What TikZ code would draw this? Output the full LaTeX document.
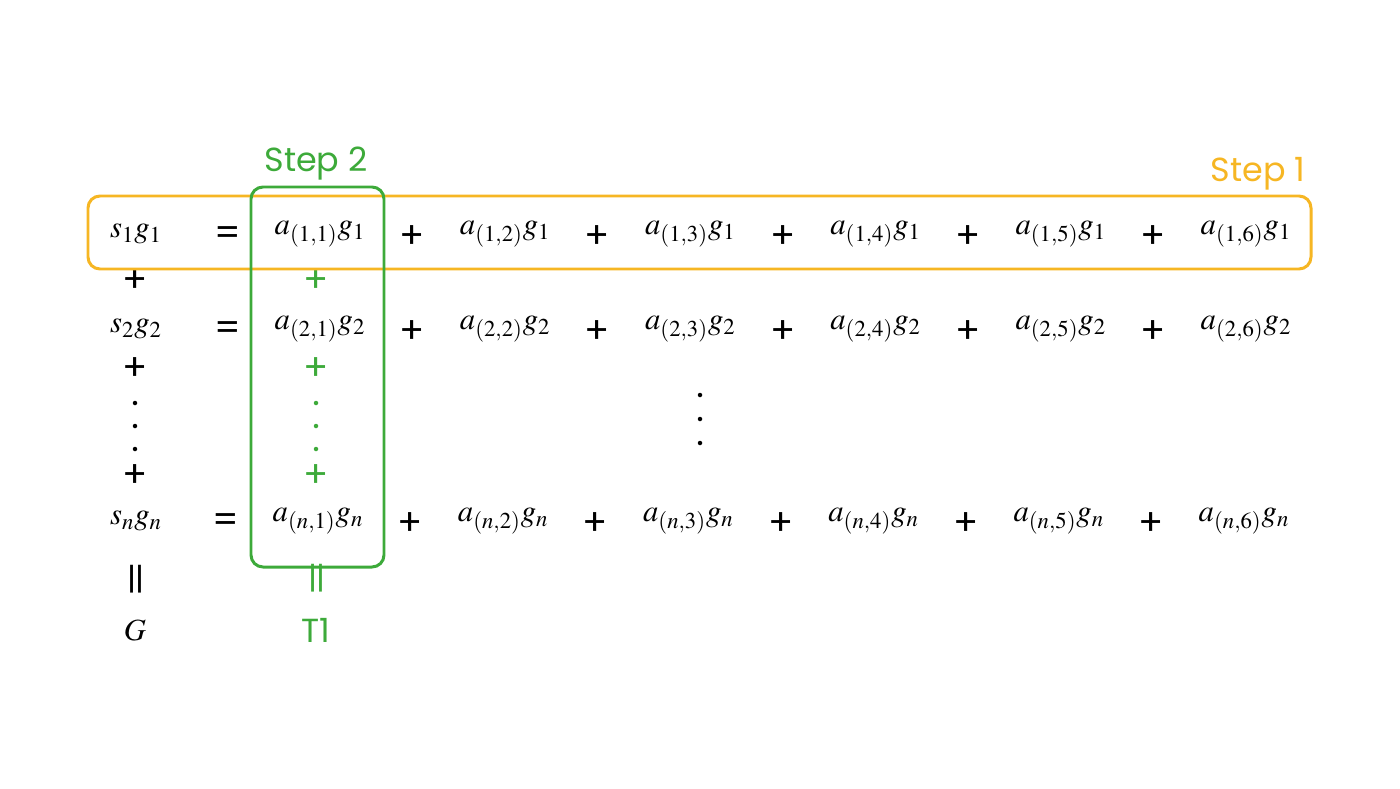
\documentclass[tikz,border=0pt]{standalone}
\usepackage{mathptmx}
\usepackage{fontspec}
\newfontfamily\stepfont{Poppins}
\usepackage{xcolor}
\usetikzlibrary{positioning}
\definecolor{stepOrange}{HTML}{F6B623}
\definecolor{stepGreen}{HTML}{3DAA3A}
\tikzstyle{term}=[inner sep=0pt, font=\fontsize{17.5}{21}\selectfont]
\tikzstyle{op}=[inner sep=0pt, font=\stepfont\fontsize{21}{26}\selectfont]
\tikzstyle{opG}=[op, text=stepGreen]
\tikzstyle{dotnode}=[circle, fill, inner sep=0pt, minimum size=0.09cm]
\tikzstyle{label}=[inner sep=0pt, font=\stepfont\fontsize{19}{22}\selectfont]
\tikzstyle{stepbox}=[line width=1.7pt, rounded corners=0.24cm]
\newcommand{\vereq}{\scalebox{1.45}[1]{=}}

\begin{document}
\begin{tikzpicture}[x=0.02cm, y=-0.02cm]
      \useasboundingbox (0,0) rectangle (1400,788);
      % left column
      \node[term] (s1) at (136,234) {$s_1g_1$};
      \node[op] (p1) at (135,281) {+};
      \node[term] (s2) at (136,329) {$s_2g_2$};
      \node[op] (p2) at (135,369) {+};
      \foreach \y/\k in {403/1,426/2,449/3}
        \node[dotnode] (ld\k) at (135,\y) {};
      \node[op] (p3) at (135,476) {+};
      \node[term] (sn) at (136,521) {$s_ng_n$};
      \node[op, rotate=90] (eq) at (140,579) {\vereq};
      \node[term] (G) at (135,630) {$G$};
      % equals signs
      \node[op] (e1) at (228,236) {=};
      \node[op] (e2) at (228,331) {=};
      \node[op] (en) at (226,523) {=};
      % first column of terms
      \node[term] (a11) at (320,234) {$a_{(1,1)}g_1$};
      \node[opG] (q1) at (316,281) {+};
      \node[term] (a21) at (320,329) {$a_{(2,1)}g_2$};
      \node[opG] (q2) at (316,369) {+};
      \foreach \y/\k in {403/1,426/2,449/3}
        \node[dotnode, stepGreen] (gd\k) at (316,\y) {};
      \node[opG] (q3) at (316,476) {+};
      \node[term] (an1) at (318,521) {$a_{(n,1)}g_n$};
      \node[opG, rotate=90] (eqG) at (321,578) {\vereq};
      \node[label, text=stepGreen] (T) at (316,630) {T1};
      % remaining columns
      \foreach \c [evaluate=\c as \x using 320+(\c-1)*185.2] in {2,...,6} {
        \node[term] (a1\c) at (\x,234) {$a_{(1,\c)}g_1$};
        \node[term] (a2\c) at (\x,329) {$a_{(2,\c)}g_2$};
        \node[term] (an\c) at (\x-2,521) {$a_{(n,\c)}g_n$};
        \node[op] (r1\c) at (\x-93,237) {+};
        \node[op] (r2\c) at (\x-93,332) {+};
        \node[op] (rn\c) at (\x-95,524) {+};
      }
      \foreach \y/\k in {395/1,419/2,443/3}
        \node[dotnode] (md\k) at (700,\y) {};
      % step boxes
      \draw[stepbox, stepOrange] (88,196) rectangle (1311,269);
      \draw[stepbox, stepGreen] (251,187) rectangle (384,567);
      \node[label, text=stepGreen] (step2) at (316,164) {Step 2};
      \node[label, text=stepOrange] (step1) at (1258,174) {Step 1};
    \end{tikzpicture}
\end{document}
